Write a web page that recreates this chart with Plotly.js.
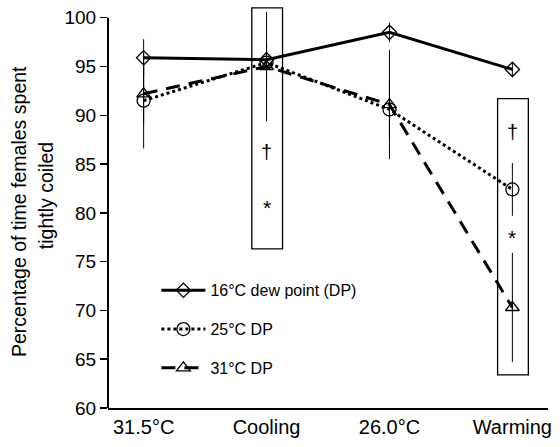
<!DOCTYPE html>
<html>
<head>
<meta charset="utf-8">
<script src="https://cdn.plot.ly/plotly-3.0.1.min.js"></script>
<style>html,body{margin:0;padding:0;background:#fff;}#chart{width:560px;height:447px;}</style>
</head>
<body>
<div id="chart"></div>
<script>
// Categories (x axis)
const categories = ["31.5°C", "Cooling", "26.0°C", "Warming"];

// Series names
const seriesNames = ["16°C dew point (DP)", "25°C DP", "31°C DP"];

// Mean percentage of time spent tightly coiled
const dp16 = [95.9, 95.7, 98.5, 94.7];
const dp25 = [91.5, 95.4, 90.6, 82.4];
const dp31 = [92.2, 95.0, 91.1, 70.3];

// Error bar half-lengths
const dp16Err = [1.9, 0.5, 1.0, 0.7];
const dp25Err = [4.9, 2.0, 3.0, 2.7];
const dp31Err = [3.0, 5.6, 5.6, 5.6];

// Y tick values
const yTicks = [60, 65, 70, 75, 80, 85, 90, 95, 100];

// Y axis title lines
const yTitleLines = ["Percentage of time females spent", "tightly coiled"];

// Significance boxes (category, bottom, top) and symbol positions
const sigCategories = ["Cooling", "Warming"];
const sigBoxBottom = [76.3, 63.4];
const sigBoxTop = [101.0, 91.7];
const daggerY = [86.2, 88.3];
const starY = [80.5, 77.5];

const FONT = "Liberation Sans, Arial, Helvetica, sans-serif";

function trace(y, err, name, dash, symbol, size) {
  return {
    x: categories, y: y, name: name, type: "scatter", mode: "lines+markers",
    legendgroup: name,
    line: {color: "#000", width: 3, dash: dash},
    marker: {symbol: symbol, size: size, color: "#000", line: {color: "#000", width: 1.3}},
    error_y: {type: "data", array: err, visible: true, color: "#000", thickness: 1, width: 0},
    cliponaxis: false
  };
}

const data = [
  trace(dp16, dp16Err, seriesNames[0], "solid", "diamond-open", 11),
  trace(dp25, dp25Err, seriesNames[1], "dot", "circle-open", 13),
  trace(dp31, dp31Err, seriesNames[2], "14px,9px", "triangle-up-open", 12)
];

const shapes = sigCategories.map((c, i) => {
  const idx = categories.indexOf(c);
  return {type: "rect", xref: "x", yref: "y", x0: idx - 0.12, x1: idx + 0.13,
          y0: sigBoxBottom[i], y1: sigBoxTop[i], line: {color: "#000", width: 1.3}, fillcolor: "rgba(0,0,0,0)"};
});
// y axis line from lowest to highest tick only
shapes.push({type: "line", xref: "paper", yref: "y", x0: 0, x1: 0,
             y0: yTicks[0], y1: yTicks[yTicks.length - 1], line: {color: "#000", width: 2}});

const annotations = [];
sigCategories.forEach((c, i) => {
  annotations.push({x: c, y: daggerY[i], xref: "x", yref: "y", text: "†", showarrow: false,
                    font: {family: FONT, size: 20, color: "#000"}});
  annotations.push({x: c, y: starY[i], xref: "x", yref: "y", text: "*", showarrow: false,
                    font: {family: FONT, size: 21, color: "#000"}});
});
const titleX = [-0.2023, -0.1409];
const titleY = [0.49, 0.527];
yTitleLines.forEach((t, i) => {
  annotations.push({xref: "paper", yref: "paper", x: titleX[i], y: titleY[i], xanchor: "center", yanchor: "middle",
                    textangle: -90, showarrow: false, text: t,
                    font: {family: FONT, size: 19.5, color: "#000"}});
});

const layout = {
  width: 560, height: 447,
  margin: {l: 108, r: 12, t: 6, b: 39},
  paper_bgcolor: "#fff", plot_bgcolor: "#fff",
  font: {family: FONT, color: "#000"},
  showlegend: true,
  legend: {x: 0.11, y: 0.335, xanchor: "left", yanchor: "top", bgcolor: "rgba(0,0,0,0)",
           font: {family: FONT, size: 16, color: "#000"}, tracegroupgap: 15, itemwidth: 44},
  xaxis: {type: "category", range: [-0.29, 3.29], showgrid: false, zeroline: false,
          showline: true, linecolor: "#000", linewidth: 2, ticks: "",
          tickfont: {family: FONT, size: 20, color: "#000"}},
  yaxis: {range: [60, 101.2], tickvals: yTicks, showgrid: false, zeroline: false,
          showline: false, ticks: "outside", ticklen: 7, tickwidth: 1.5,
          tickcolor: "#000", tickfont: {family: FONT, size: 19, color: "#000"}},
  shapes: shapes,
  annotations: annotations
};

Plotly.newPlot("chart", data, layout, {displayModeBar: false, staticPlot: true});
</script>
</body>
</html>
